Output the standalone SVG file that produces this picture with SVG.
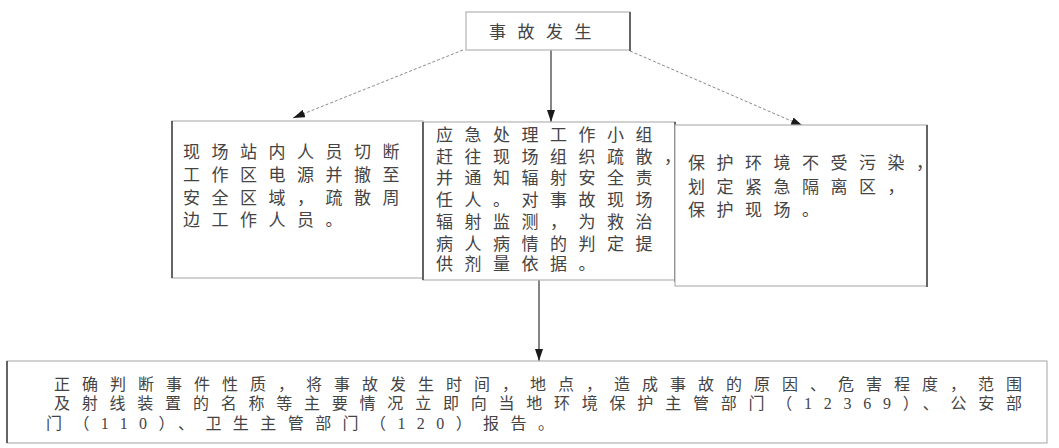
<svg xmlns="http://www.w3.org/2000/svg" width="1059" height="448" viewBox="0 0 1059 448">
  <style>
    .box { fill: #ffffff; stroke: #b4b4b4; stroke-width: 1.2; }
    .side { stroke: #4a4a4a; stroke-width: 1.6; }
    .t { font-family: "Liberation Serif", "Noto Sans CJK SC", serif; font-size: 17px; fill: #444444; dominant-baseline: central; letter-spacing: 11.5px; }
    .tb { font-family: "Liberation Serif", "Noto Sans CJK SC", serif; font-size: 16px; fill: #444444; dominant-baseline: central; }
    .dash { fill: none; stroke: #8a8a8a; stroke-width: 1; stroke-dasharray: 3 2; }
    .solid { fill: none; stroke: #333333; stroke-width: 1.2; }
  </style>
  <defs>
    <marker id="ah" viewBox="0 0 12 8" refX="12" refY="4" markerWidth="12" markerHeight="8" markerUnits="userSpaceOnUse" orient="auto">
      <path d="M0,0 L12,4 L0,8 z" fill="#1a1a1a"/>
    </marker>
  </defs>
  <rect width="1059" height="448" fill="#ffffff"/>

  <g id="connectors">
    <line class="dash" x1="463" y1="50" x2="293" y2="118" marker-end="url(#ah)"/>
    <line class="dash" x1="630" y1="51" x2="803" y2="126" marker-end="url(#ah)"/>
    <line class="solid" x1="551" y1="50" x2="551" y2="122" marker-end="url(#ah)"/>
    <line class="solid" x1="539" y1="280" x2="539" y2="361" marker-end="url(#ah)"/>
  </g>

  <g id="node-start">
    <rect class="box" x="466" y="12" width="164" height="38"/>
    <line class="side" x1="630" y1="12" x2="630" y2="51"/>
    <text class="t" x="489" y="32" font-size="19" letter-spacing="10">事故发生</text>
  </g>

  <g id="node-evacuate">
    <rect class="box" x="172" y="121" width="251" height="157"/>
    <line class="side" x1="172" y1="121" x2="172" y2="278"/>
    <text class="t" x="183" y="152">现场站内人员切断</text>
    <text class="t" x="183" y="175">工作区电源并撤至</text>
    <text class="t" x="183" y="198">安全区域，疏散周</text>
    <text class="t" x="183" y="220">边工作人员。</text>
  </g>

  <g id="node-response">
    <rect class="box" x="423" y="122" width="252" height="158"/>
    <line class="side" x1="423" y1="122" x2="423" y2="280"/>
    <line class="side" x1="675" y1="122" x2="675" y2="282"/>
    <text class="t" x="436" y="135">应急处理工作小组</text>
    <text class="t" x="436" y="157">赶往现场组织疏散，</text>
    <text class="t" x="436" y="178">并通知辐射安全责</text>
    <text class="t" x="436" y="200">任人。对事故现场</text>
    <text class="t" x="436" y="222">辐射监测，为救治</text>
    <text class="t" x="436" y="244">病人病情的判定提</text>
    <text class="t" x="436" y="264">供剂量依据。</text>
  </g>

  <g id="node-protect">
    <rect class="box" x="675" y="125" width="252" height="161"/>
    <line class="side" x1="927" y1="125" x2="927" y2="287"/>
    <text class="t" x="688" y="163" letter-spacing="10.8">保护环境不受污染，</text>
    <text class="t" x="688" y="187" letter-spacing="10.8">划定紧急隔离区，</text>
    <text class="t" x="688" y="210" letter-spacing="10.8">保护现场。</text>
  </g>

  <g id="node-report">
    <rect class="box" x="7" y="361" width="1040" height="82"/>
    <line class="side" x1="7" y1="361" x2="7" y2="443"/>
    <text class="tb" x="54" y="384" textLength="968" lengthAdjust="spacing">正确判断事件性质，将事故发生时间，地点，造成事故的原因、危害程度，范围</text>
    <text class="tb" x="54" y="403" textLength="968" lengthAdjust="spacing">及射线装置的名称等主要情况立即向当地环境保护主管部门（12369）、公安部</text>
    <text class="tb" x="46" y="423" textLength="508" lengthAdjust="spacing">门（110）、卫生主管部门（120）报告。</text>
  </g>
</svg>
